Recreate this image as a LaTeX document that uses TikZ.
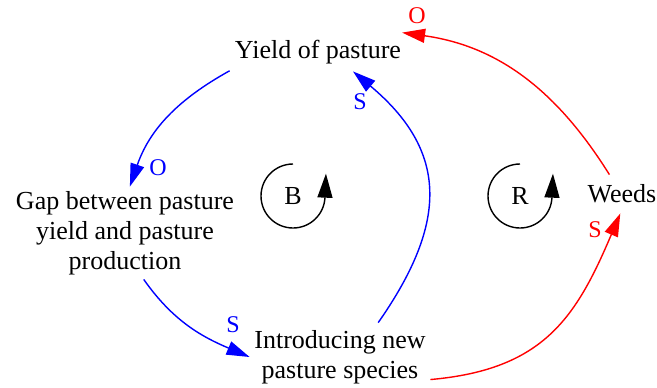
\documentclass[tikz,border=0pt]{standalone}
\usepackage{fontspec}
\setmainfont{Liberation Serif}
\usepackage{tikz}
\usetikzlibrary{arrows.meta}
\tikzset{
  var/.style={rectangle, inner sep=0pt, align=center, font=\fontsize{13}{15}\selectfont},
  pol/.style={inner sep=0pt, text=#1, font=\fontsize{12}{14}\selectfont},
  link/.style={-{Triangle[length=11.5pt, width=7pt]}, line width=0.7pt, draw=#1},
  loopsym/.style={inner sep=0pt, font=\fontsize{13}{15}\selectfont},
  looparr/.style={-{Triangle[length=12pt, width=7.5pt]}, line width=0.7pt},
}

\begin{document}
\begin{tikzpicture}[x=0.5pt, y=0.5pt]
    \useasboundingbox (0,0) rectangle (657,387);
    \node[var, minimum width=88pt, minimum height=19pt] (yld) at (318,335) {Yield of pasture};
    \node[var, minimum width=115pt, minimum height=46pt] (gap) at (125,154) {Gap between pasture\\ yield and pasture\\ production};
    \node[var, minimum width=90pt, minimum height=34pt] (intro) at (340,30) {Introducing new\\ pasture species};
    \node[var, minimum width=36pt, minimum height=19pt] (weeds) at (622,193) {Weeds};
    \node[loopsym] (bal) at (293,191) {B};
    \node[loopsym] (rein) at (520,191) {R};
    \draw[link=blue] (yld.192) to[out=209, in=71] (gap.84);
    \draw[link=blue] (gap.292) to[out=305, in=157] (intro.180);
    \draw[link=blue] (intro.42) to[out=55, in=320, looseness=1.25] (yld.331);
    \draw[link=red] (intro.346) to[out=5, in=247, looseness=1.15] (weeds.265);
    \draw[link=red] (weeds.123) to[out=122, in=352] (yld.13);
    \node[pol=blue] (p1) at (158,219) {O};
    \node[pol=blue] (p2) at (233,62) {S};
    \node[pol=blue] (p3) at (360,285) {S};
    \node[pol=red] (p4) at (595,157) {S};
    \node[pol=red] (p5) at (417,371) {O};
    \draw[looparr] ([shift={(90:32)}]bal.center) arc[start angle=90, end angle=357, radius=32] -- ++(1,24);
    \draw[looparr] ([shift={(90:32)}]rein.center) arc[start angle=90, end angle=357, radius=32] -- ++(1,24);
  \end{tikzpicture}
\end{document}
